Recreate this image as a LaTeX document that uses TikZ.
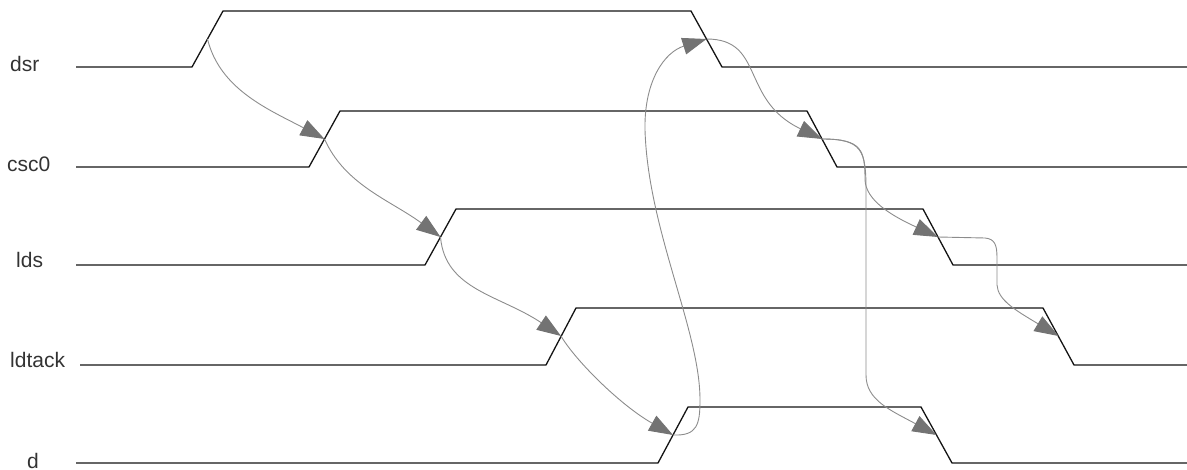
\documentclass[tikz,border=0pt]{standalone}
\usepackage{fontspec}
\setmainfont{Liberation Sans}
\usetikzlibrary{arrows.meta}
\definecolor{wire}{RGB}{20,20,20}
\definecolor{dep}{RGB}{140,140,140}
\definecolor{head}{RGB}{115,115,115}
\tikzset{
  wave/.style={draw=wire, line width=1.3pt, line join=miter},
  lbl/.style={anchor=base west, inner sep=0pt, font=\fontsize{21}{24}\selectfont, text=black!80},
  causal/.style={draw=dep, line width=0.9pt, -{Triangle[length=24pt,width=17pt,fill=head,color=head]}},
}
\begin{document}
\begin{tikzpicture}[x=1pt,y=-1pt]
\useasboundingbox (0,0) rectangle (1187,470);
% labels
\node[lbl] (ldsr) at (10,72) {dsr};
\node[lbl] (lcsc) at (7,172) {csc0};
\node[lbl] (llds) at (16,268) {lds};
\node[lbl] (lldt) at (10,368) {ldtack};
\node[lbl] (ld) at (27,468) {d};
% waveforms
\draw[wave] (76,67) -- (192,67) -- (223,11) -- (691,11) -- (722,67) -- (1187,67);
\draw[wave] (76,167) -- (309,167) -- (340,111) -- (807,111) -- (837,167) -- (1187,167);
\draw[wave] (76,265) -- (425,265) -- (456,209) -- (923,209) -- (953,265) -- (1187,265);
\draw[wave] (80,365) -- (546,365) -- (576,308) -- (1043,308) -- (1074,365) -- (1187,365);
\draw[wave] (76,463) -- (658,463) -- (688,407) -- (921,407) -- (952,463) -- (1187,463);
% edge midpoints
\coordinate (dsrR) at (207.5,39);
\coordinate (cscR) at (324.5,139);
\coordinate (ldsR) at (440.5,237);
\coordinate (ldtR) at (561,336);
\coordinate (dR) at (673,435);
\coordinate (dsrF) at (706.5,39);
\coordinate (cscF) at (822,139);
\coordinate (ldsF) at (938,237);
\coordinate (ldtF) at (1058.5,336);
\coordinate (dF) at (936.5,435);
% causal arrows
\draw[causal] (dsrR) .. controls (220,90) and (270,110) .. (cscR);
\draw[causal] (cscR) .. controls (345,185) and (390,200) .. (ldsR);
\draw[causal] (ldsR) .. controls (445,290) and (500,295) .. (ldtR);
\draw[causal] (ldtR) .. controls (575,360) and (620,405) .. (dR);
\draw[causal] (dR) .. controls (697,436) and (700,425) .. (700,400)
  .. controls (700,330) and (648,230) .. (645,130)
  .. controls (644,80) and (665,52) .. (dsrF);
\draw[causal] (dsrF) .. controls (765,39) and (740,100) .. (cscF);
\draw[causal] (cscF) .. controls (862,139) and (865,150) .. (865,180)
  .. controls (866,200) and (890,215) .. (ldsF);
\draw[causal] (cscF) .. controls (862,139) and (866,150) .. (866,190)
  -- (866,375) .. controls (866,400) and (890,410) .. (dF);
\draw[causal] (ldsF) -- (985,238) .. controls (995,239) and (997,245) .. (997,258)
  -- (997,285) .. controls (998,300) and (1015,310) .. (ldtF);
\end{tikzpicture}
\end{document}
